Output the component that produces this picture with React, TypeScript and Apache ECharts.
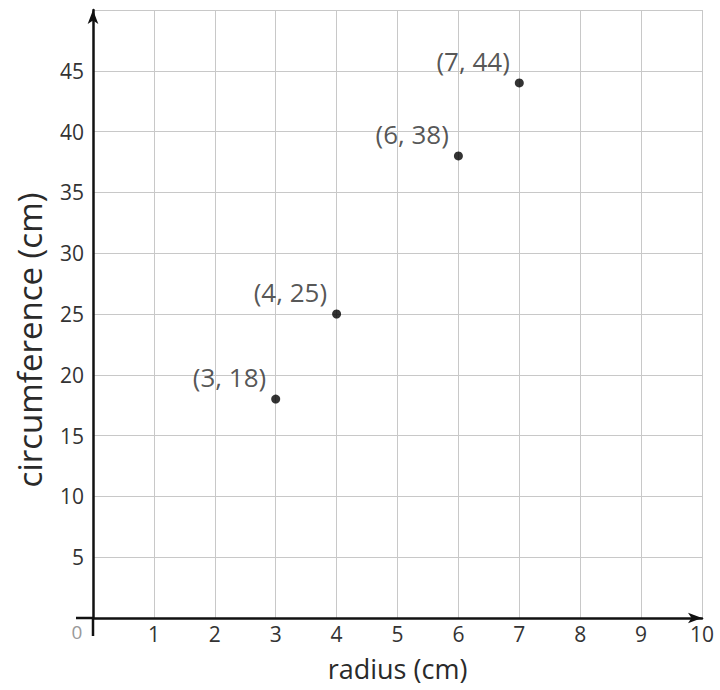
import React, { useEffect, useRef } from "react";
import * as echarts from "echarts";

const radius = [3, 4, 6, 7];
const circumference = [18, 25, 38, 44];
const pointLabels = ["(3, 18)", "(4, 25)", "(6, 38)", "(7, 44)"];
const xTicks = [0, 1, 2, 3, 4, 5, 6, 7, 8, 9, 10];
const yTicks = [0, 5, 10, 15, 20, 25, 30, 35, 40, 45, 50];

const FONT = "'Open Sans', 'Noto Sans', sans-serif";

export default function App() {
  const ref = useRef<HTMLDivElement>(null);
  useEffect(() => {
    if (!ref.current) return;
    const chart = echarts.init(ref.current, undefined, { renderer: "svg" });
    const data = radius.map((r, i) => ({
      value: [r, circumference[i]],
      label: { formatter: pointLabels[i] },
    }));
    chart.setOption({
      animation: false,
      backgroundColor: "#fff",
      grid: { left: 93, right: 18, top: 10, bottom: 72, containLabel: false, outerBoundsMode: "none" },
      xAxis: {
        type: "value",
        min: xTicks[0],
        max: xTicks[xTicks.length - 1],
        interval: 1,
        name: "radius (cm)",
        nameLocation: "middle",
        nameGap: 37,
        nameTextStyle: { fontFamily: FONT, fontSize: 27, color: "#2a2a2a" },
        axisLine: {
          show: true,
          onZero: false,
          symbol: ["none", "arrow"],
          symbolSize: [8, 14],
          lineStyle: { color: "#111", width: 2.5 },
        },
        axisTick: { show: false },
        axisLabel: {
          fontFamily: FONT,
          fontSize: 21,
          color: "#333",
          margin: 5,
          formatter: (v: number) => (v === 0 ? "" : String(v)),
        },
        splitLine: { show: true, lineStyle: { color: "#c8c8c8", width: 1 } },
      },
      yAxis: {
        type: "value",
        min: yTicks[0],
        max: yTicks[yTicks.length - 1],
        interval: 5,
        axisLine: {
          show: true,
          onZero: false,
          symbol: ["none", "arrow"],
          symbolSize: [8, 14],
          lineStyle: { color: "#111", width: 2.5 },
        },
        axisTick: { show: false },
        axisLabel: {
          fontFamily: FONT,
          fontSize: 21,
          color: "#333",
          margin: 9,
          formatter: (v: number) => (v === 0 || v === 50 ? "" : String(v)),
        },
        splitLine: { show: true, lineStyle: { color: "#c8c8c8", width: 1 } },
      },
      series: [
        {
          type: "scatter",
          symbol: "circle",
          symbolSize: 9,
          itemStyle: { color: "#000" },
          data,
          label: {
            show: true,
            position: "left",
            distance: 5,
            offset: [0, -22],
            fontFamily: FONT,
            fontSize: 26,
            color: "#2a2a2a",
          },
        },
      ],
      graphic: [
        { type: "line", shape: { x1: 76, y1: 618, x2: 93, y2: 618 }, style: { stroke: "#111", lineWidth: 2.5 } },
        { type: "line", shape: { x1: 93, y1: 618, x2: 93, y2: 636 }, style: { stroke: "#111", lineWidth: 2.5 } },
        {
          type: "text",
          x: 77,
          y: 632,
          style: { text: "0", fontFamily: FONT, fontSize: 19, fill: "#999", align: "center", verticalAlign: "middle" },
        },
        {
          type: "text",
          x: 29,
          y: 340,
          rotation: Math.PI / 2,
          style: {
            text: "circumference (cm)",
            fontFamily: FONT,
            fontSize: 33,
            fill: "#2a2a2a",
            align: "center",
            verticalAlign: "middle",
          },
        },
      ],
    });
    return () => chart.dispose();
  }, []);
  return <div ref={ref} style={{ width: 720, height: 690, position: "absolute", left: 0, top: 0 }} />;
}
